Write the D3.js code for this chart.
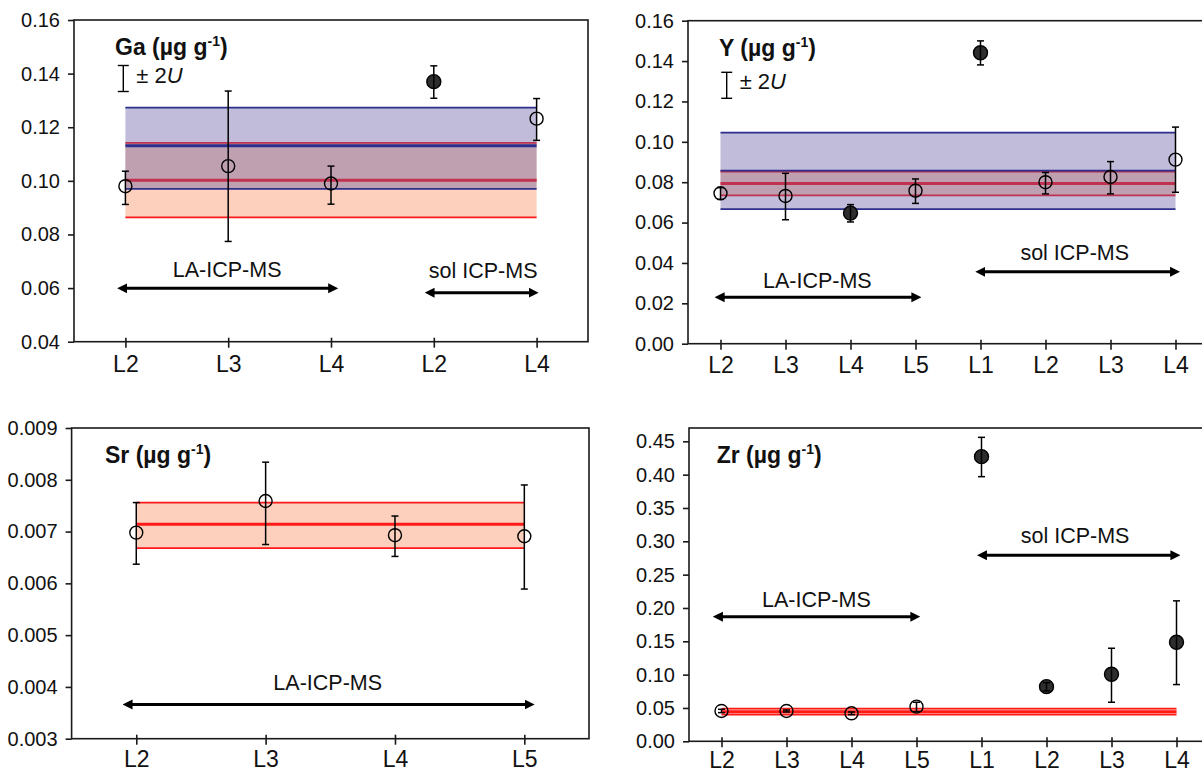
<!DOCTYPE html>
<html>
<head>
<meta charset="utf-8">
<script src="https://cdn.jsdelivr.net/npm/d3@7"></script>
<style>
  body { margin: 0; background: #fff; }
  svg text { font-family: "Liberation Sans", Arial, Helvetica, sans-serif; fill: #111; }
</style>
</head>
<body>
<svg id="chart" width="1202" height="775"></svg>
<script>
// ---- values ----
// Ga
const gaCats   = ["L2", "L3", "L4", "L2", "L4"];
const gaValues = [0.0980, 0.1055, 0.0990, 0.1370, 0.1232];
const gaLow    = [0.0912, 0.0774, 0.0913, 0.1308, 0.1151];
const gaHigh   = [0.1036, 0.1335, 0.1055, 0.1429, 0.1307];
const gaFilled = [false, false, false, true, false];
const gaRed    = [0.0864, 0.1002, 0.1142];   // low, mean, high
const gaBlue   = [0.0970, 0.1131, 0.1273];
const gaTicks  = [0.04, 0.06, 0.08, 0.10, 0.12, 0.14, 0.16];

// Y
const yCats   = ["L2", "L3", "L4", "L5", "L1", "L2", "L3", "L4"];
const yValues = [0.0745, 0.0732, 0.0647, 0.0758, 0.1441, 0.0800, 0.0826, 0.0912];
const yLow    = [0.0715, 0.0614, 0.0603, 0.0695, 0.1381, 0.0742, 0.0742, 0.0750];
const yHigh   = [0.0773, 0.0844, 0.0689, 0.0816, 0.1500, 0.0848, 0.0902, 0.1073];
const yFilled = [false, false, true, false, true, false, false, false];
const yRed    = [0.0735, 0.0793, 0.0853];
const yBlue   = [0.0667, 0.0857, 0.1046];
const yTicks  = [0, 0.02, 0.04, 0.06, 0.08, 0.10, 0.12, 0.14, 0.16];

// Sr
const srCats   = ["L2", "L3", "L4", "L5"];
const srValues = [0.00698, 0.00759, 0.00693, 0.00691];
const srLow    = [0.00637, 0.00675, 0.00652, 0.00589];
const srHigh   = [0.00756, 0.00834, 0.00730, 0.00790];
const srFilled = [false, false, false, false];
const srRed    = [0.00668, 0.00714, 0.00756];
const srTicks  = [0.003, 0.004, 0.005, 0.006, 0.007, 0.008, 0.009];

// Zr
const zrCats   = ["L2", "L3", "L4", "L5", "L1", "L2", "L3", "L4"];
const zrValues = [0.0455, 0.0455, 0.0420, 0.0520, 0.4270, 0.0820, 0.1006, 0.1486];
const zrLow    = [0.0430, 0.0440, 0.0400, 0.0445, 0.3970, 0.0756, 0.0586, 0.0851];
const zrHigh   = [0.0480, 0.0470, 0.0440, 0.0586, 0.4560, 0.0880, 0.1396, 0.2107];
const zrFilled = [false, false, false, false, true, true, true, true];
const zrRed    = [0.0400, 0.0445, 0.0490];
const zrTicks  = [0, 0.05, 0.10, 0.15, 0.20, 0.25, 0.30, 0.35, 0.40, 0.45];

let svg = d3.select("#chart");
svg.append("rect").attr("width", 1202).attr("height", 775).attr("fill", "#fff");

// arrow head
svg.append("defs").append("marker")
    .attr("id", "head")
    .attr("viewBox", "0 0 10 10")
    .attr("markerUnits", "userSpaceOnUse")
    .attr("markerWidth", 10).attr("markerHeight", 11)
    .attr("refX", 4).attr("refY", 5)
    .attr("orient", "auto-start-reverse")
  .append("path")
    .attr("d", "M0,0 L10,5 L0,10 Z")
    .attr("fill", "#000");

function drawBand(g, x, y, n, band, fill, line, thin, thick) {
  g.append("rect")
    .attr("x", x(1)).attr("width", x(n) - x(1))
    .attr("y", y(band[2])).attr("height", y(band[0]) - y(band[2]))
    .attr("fill", fill);
  band.forEach((v, i) => {
    g.append("line")
      .attr("x1", x(1)).attr("x2", x(n))
      .attr("y1", y(v)).attr("y2", y(v))
      .attr("stroke", line)
      .attr("stroke-width", i == 1 ? thick : thin);
  });
}

function drawPanel(p) {
  let n = p.cats.length;
  let x = d3.scaleLinear().domain([0.5, n + 0.5]).range([p.left, p.right]);
  let y = d3.scaleLinear().domain(p.yDomain).range([p.bottom, p.top]);
  let g = svg.append("g");

  // reference bands: red first, blue translucent on top
  drawBand(g, x, y, n, p.red, "#fcd0bc", "#ff1a1a", 1.8, 3);
  if (p.blue) drawBand(g, x, y, n, p.blue, "rgba(98,88,160,0.4)", "#2d2f8c", 1.8, p.blueThick);

  // frame
  g.append("rect")
    .attr("x", p.left).attr("y", p.top)
    .attr("width", p.right - p.left).attr("height", p.bottom - p.top)
    .attr("fill", "none").attr("stroke", "#1a1a1a").attr("stroke-width", 1.6);

  // axes
  let axisY = d3.axisLeft(y).tickValues(p.ticks).tickFormat(d3.format(p.fmt)).tickSize(6).tickPadding(8);
  let gy = g.append("g").attr("transform", `translate(${p.left},0)`).call(axisY);
  let axisX = d3.axisBottom(x).tickValues(d3.range(1, n + 1)).tickFormat(i => p.cats[i - 1]).tickSize(5);
  let gx = g.append("g").attr("transform", `translate(0,${p.bottom})`).call(axisX);
  [gx, gy].forEach(a => {
    a.select(".domain").remove();
    a.selectAll(".tick line").attr("stroke", "#1a1a1a").attr("stroke-width", 1.6);
  });
  gy.selectAll("text").style("font-size", "20px").attr("fill", "#111");
  gx.selectAll(".tick line").attr("y1", -4).attr("y2", 6);
  gx.selectAll("text").style("font-size", "23px").attr("fill", "#111").attr("y", p.labelGap).attr("dy", 0);

  // points
  let pts = p.values.map((v, i) => ({ i: i + 1, v: v, lo: p.low[i], hi: p.high[i], filled: p.filled[i] }));
  let pg = g.selectAll(".pt").data(pts).enter().append("g").attr("class", "pt");
  pg.append("circle")
    .attr("cx", d => x(d.i)).attr("cy", d => y(d.v))
    .attr("r", d => d.filled ? 7 : 6.5)
    .attr("fill", d => d.filled ? "#2e2e2e" : "none")
    .attr("stroke", "#000").attr("stroke-width", 1.4);
  pg.append("line")
    .attr("x1", d => x(d.i)).attr("x2", d => x(d.i))
    .attr("y1", d => y(d.lo)).attr("y2", d => y(d.hi))
    .attr("stroke", "#000").attr("stroke-width", 1.5);
  ["lo", "hi"].forEach(k => {
    pg.append("line")
      .attr("x1", d => x(d.i) - 3.5).attr("x2", d => x(d.i) + 3.5)
      .attr("y1", d => y(d[k])).attr("y2", d => y(d[k]))
      .attr("stroke", "#000").attr("stroke-width", 1.5);
  });

  // method arrows
  p.arrows.forEach(a => {
    g.append("line")
      .attr("x1", x(a.from) + 6).attr("x2", x(a.to) - 6)
      .attr("y1", y(a.at)).attr("y2", y(a.at))
      .attr("stroke", "#000").attr("stroke-width", 3)
      .attr("marker-start", "url(#head)").attr("marker-end", "url(#head)");
    g.append("text")
      .attr("x", x(a.labelX)).attr("y", y(a.labelAt))
      .attr("text-anchor", "middle")
      .style("font-size", "21.5px")
      .text(a.label);
  });

  // title
  let t = g.append("text")
    .attr("x", p.titleX).attr("y", p.titleY)
    .style("font-size", "23px").style("font-weight", "bold");
  t.append("tspan").text(p.title + " (µg g");
  t.append("tspan").attr("dy", -9).style("font-size", "14px").text("-1");
  t.append("tspan").attr("dy", 9).text(")");

  // ± 2U legend
  if (p.legend) {
    let l = p.legend;
    g.append("line").attr("x1", l.x).attr("x2", l.x).attr("y1", l.y1).attr("y2", l.y2)
      .attr("stroke", "#000").attr("stroke-width", 1.4);
    [l.y1, l.y2].forEach(v => {
      g.append("line").attr("x1", l.x - 5.5).attr("x2", l.x + 5.5).attr("y1", v).attr("y2", v)
        .attr("stroke", "#000").attr("stroke-width", 1.4);
    });
    let lt = g.append("text").attr("x", l.x + 13).attr("y", l.ty).style("font-size", "22px");
    lt.append("tspan").text("± 2");
    lt.append("tspan").style("font-style", "italic").text("U");
  }
}

drawPanel({
  cats: gaCats, values: gaValues, low: gaLow, high: gaHigh, filled: gaFilled,
  red: gaRed, blue: gaBlue, blueThick: 3, ticks: gaTicks, fmt: ".2f", yDomain: [0.04, 0.16],
  left: 74, right: 588, top: 20, bottom: 341.7, labelGap: 30,
  title: "Ga", titleX: 115, titleY: 54.5,
  legend: { x: 123.3, y1: 65.5, y2: 91.5, ty: 83 },
  arrows: [
    { label: "LA-ICP-MS", from: 0.92, to: 3.07, at: 0.0599, labelX: 1.99, labelAt: 0.0641 },
    { label: "sol ICP-MS", from: 3.91, to: 5.02, at: 0.0583, labelX: 4.48, labelAt: 0.0639 }
  ]
});

drawPanel({
  cats: yCats, values: yValues, low: yLow, high: yHigh, filled: yFilled,
  red: yRed, blue: yBlue, blueThick: 1.8, ticks: yTicks, fmt: ".2f", yDomain: [0, 0.16],
  left: 688, right: 1208, top: 20.7, bottom: 343.7, labelGap: 29,
  title: "Y", titleX: 719, titleY: 56,
  legend: { x: 726.7, y1: 72.3, y2: 98.3, ty: 89 },
  arrows: [
    { label: "LA-ICP-MS", from: 0.91, to: 4.09, at: 0.0230, labelX: 2.49, labelAt: 0.0275 },
    { label: "sol ICP-MS", from: 4.92, to: 8.07, at: 0.0356, labelX: 6.45, labelAt: 0.0416 }
  ]
});

drawPanel({
  cats: srCats, values: srValues, low: srLow, high: srHigh, filled: srFilled,
  red: srRed, blue: null, ticks: srTicks, fmt: ".3f", yDomain: [0.003, 0.009],
  left: 71.6, right: 589, top: 428, bottom: 738.7, labelGap: 28,
  title: "Sr", titleX: 105, titleY: 463.3,
  legend: null,
  arrows: [
    { label: "LA-ICP-MS", from: 0.894, to: 4.08, at: 0.00366, labelX: 2.48, labelAt: 0.00394 }
  ]
});

drawPanel({
  cats: zrCats, values: zrValues, low: zrLow, high: zrHigh, filled: zrFilled,
  red: zrRed, blue: null, ticks: zrTicks, fmt: ".2f", yDomain: [0, 0.47],
  left: 689, right: 1209, top: 428, bottom: 741.3, labelGap: 27,
  title: "Zr", titleX: 716.7, titleY: 463.3,
  legend: null,
  arrows: [
    { label: "LA-ICP-MS", from: 0.868, to: 4.06, at: 0.187, labelX: 2.46, labelAt: 0.202 },
    { label: "sol ICP-MS", from: 4.93, to: 8.06, at: 0.279, labelX: 6.44, labelAt: 0.297 }
  ]
});
</script>
</body>
</html>
